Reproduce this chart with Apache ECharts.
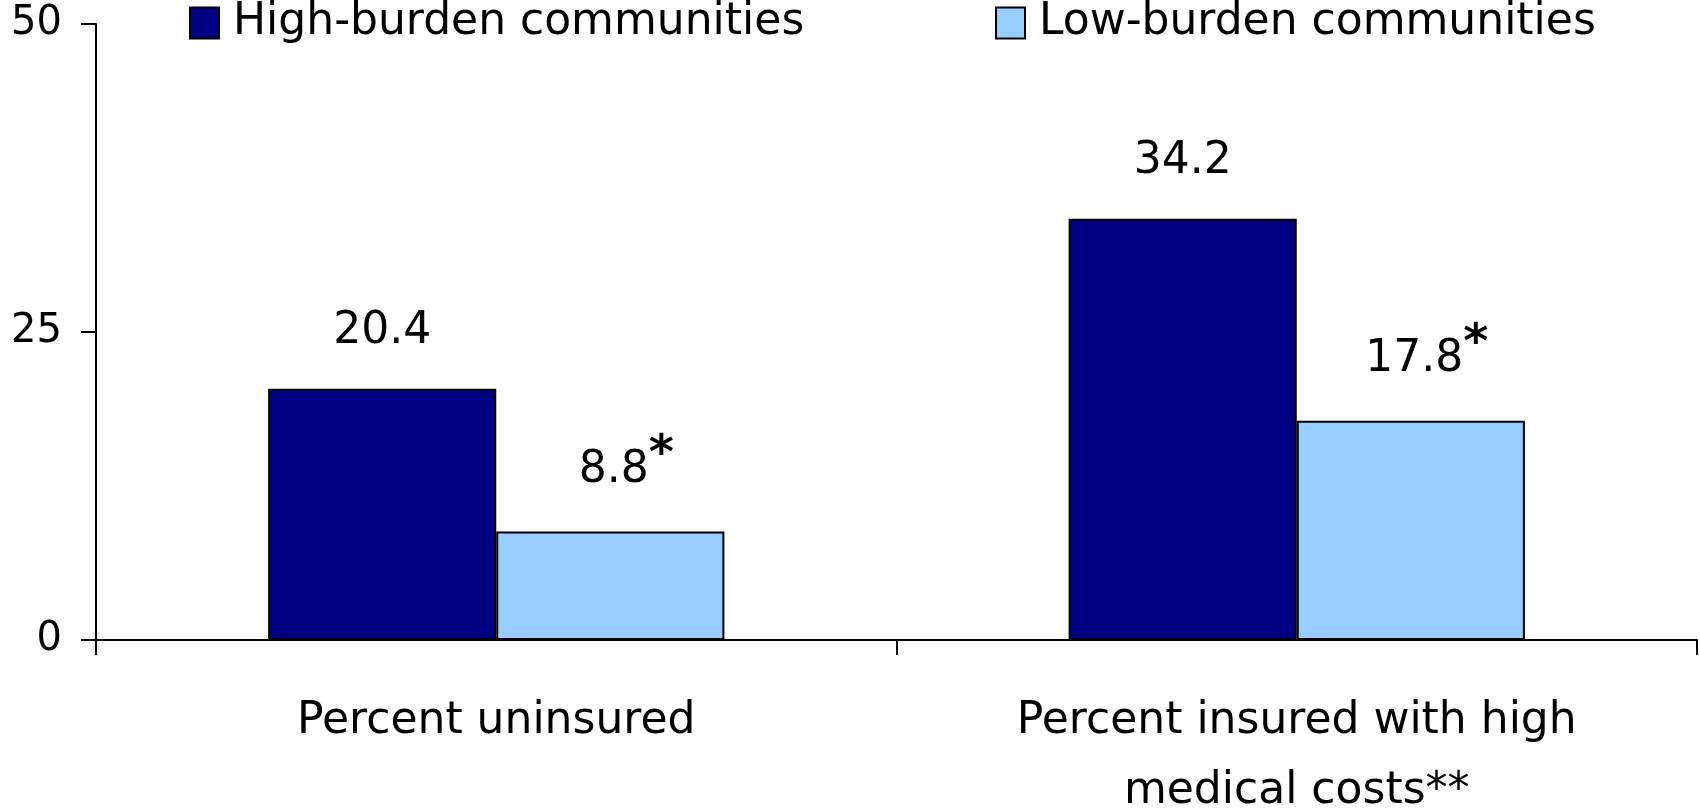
<!DOCTYPE html>
<html>
<head>
<meta charset="utf-8">
<script src="https://cdn.jsdelivr.net/npm/echarts@6/dist/echarts.min.js"></script>
<style>
html,body{margin:0;padding:0;background:#fff;}
#chart{width:1700px;height:808px;}
</style>
</head>
<body>
<div id="chart"></div>
<script>
var categories = ['Percent uninsured', 'Percent insured with high\nmedical costs**'];
var seriesNames = ['High-burden communities', 'Low-burden communities'];
var highValues = [20.4, 34.2];
var lowValues = [8.8, 17.8];
var lowMarks = ['*', '*'];
var yTicks = [0, 25, 50];

var FONT = 'DejaVu Sans';
var chart = echarts.init(document.getElementById('chart'), null, {renderer: 'canvas'});
function legendCfg(name, left) {
  return {
    data: [name], left: left, top: 1, padding: 0, itemWidth: 29, itemHeight: 31, itemGap: 0,
    icon: 'rect',
    formatter: function(n){ return '{t|' + n + '}'; },
    textStyle: {fontFamily: FONT, fontSize: 44, color: '#000',
      rich: {t: {fontFamily: FONT, fontSize: 44, color: '#000', padding: [0, 0, 0, 9]}}}
  };
}
chart.setOption({
  animation: false,
  backgroundColor: '#ffffff',
  grid: {left: 96, right: 3, top: 24, bottom: 168, containLabel: false, outerBoundsMode: 'none'},
  legend: [legendCfg(seriesNames[0], 189), legendCfg(seriesNames[1], 995)],
  xAxis: {
    type: 'category',
    data: categories,
    axisLine: {lineStyle: {color: '#000', width: 2}},
    axisTick: {show: true, length: 15, lineStyle: {color: '#000', width: 2}},
    axisLabel: {fontFamily: FONT, fontSize: 44, color: '#000', lineHeight: 70, margin: 47, interval: 0}
  },
  yAxis: {
    type: 'value',
    min: yTicks[0], max: yTicks[yTicks.length - 1], interval: yTicks[1] - yTicks[0],
    splitLine: {show: false},
    axisLine: {show: true, lineStyle: {color: '#000', width: 2}},
    axisTick: {show: true, length: 15, lineStyle: {color: '#000', width: 2}},
    axisLabel: {fontFamily: FONT, fontSize: 40, color: '#000', margin: 34}
  },
  series: [
    {
      name: seriesNames[0], type: 'bar', data: highValues,
      barGap: '0%', barCategoryGap: '43%',
      itemStyle: {color: '#000080', borderColor: '#000', borderWidth: 2},
      label: {show: true, position: 'top', distance: 35, fontFamily: FONT, fontSize: 44, color: '#000',
              formatter: function(p){ return p.value.toFixed(1); }}
    },
    {
      name: seriesNames[1], type: 'bar', data: lowValues,
      barGap: '0%', barCategoryGap: '43%',
      itemStyle: {color: '#99CCFF', borderColor: '#000', borderWidth: 2},
      label: {show: true, position: 'top', distance: 22, offset: [16, 0], color: '#000',
              formatter: function(p){ return '{v|' + p.value.toFixed(1) + '}{s|' + lowMarks[p.dataIndex] + '}'; },
              rich: {
                v: {fontFamily: FONT, fontSize: 44, color: '#000'},
                s: {fontFamily: FONT, fontSize: 48, fontWeight: 'bold', color: '#000', padding: [0, 0, 30, 0]}
              }}
    }
  ]
});
</script>
</body>
</html>
